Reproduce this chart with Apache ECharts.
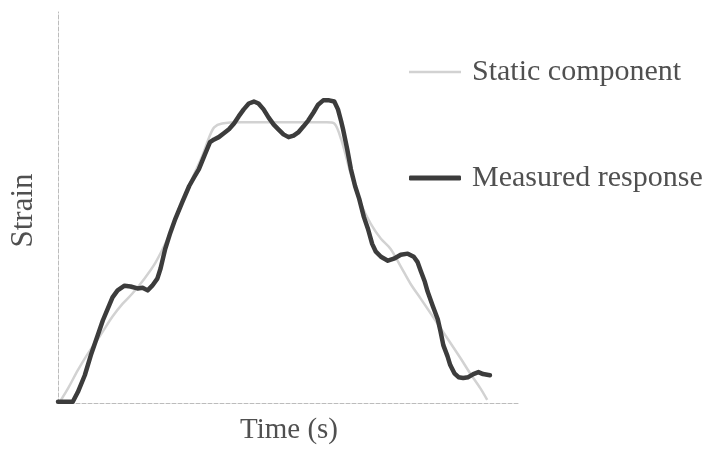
<!DOCTYPE html>
<html>
<head>
<meta charset="utf-8">
<script src="https://cdn.jsdelivr.net/npm/echarts@6/dist/echarts.min.js"></script>
<style>
  html, body { margin: 0; padding: 0; background: #ffffff; }
  #chart { width: 711px; height: 450px; }
</style>
</head>
<body>
<div id="chart"></div>
<script>
// Series names
const seriesNames = ['Static component', 'Measured response'];

// Static (quasi-static) strain component
const staticTime = [0.04, 0.22, 0.43, 0.65, 0.90, 1.18, 1.40, 1.61, 1.87, 2.11, 2.37, 2.62, 2.90, 3.12, 3.27, 3.38, 3.55, 3.98, 5.27, 5.81, 5.98, 6.13, 6.34, 6.56, 6.77, 6.99, 7.20, 7.42, 7.63, 7.85, 8.17, 8.43, 8.71, 8.92, 9.14, 9.29];
const staticStrain = [0.3, 3.8, 8.4, 12.7, 17.0, 22.1, 25.4, 28.0, 31.8, 35.9, 42.0, 49.1, 57.3, 63.1, 67.9, 70.5, 71.5, 71.8, 71.8, 71.8, 71.5, 67.4, 58.5, 50.9, 45.8, 42.0, 39.4, 34.9, 30.5, 26.7, 21.1, 16.5, 11.5, 7.6, 3.8, 0.8];

// Measured strain response
const measuredTime = [0, 0.15, 0.32, 0.43, 0.58, 0.71, 0.86, 0.97, 1.08, 1.18, 1.29, 1.44, 1.57, 1.72, 1.83, 1.94, 2.04, 2.15, 2.22, 2.32, 2.43, 2.54, 2.69, 2.84, 2.95, 3.05, 3.18, 3.29, 3.38, 3.48, 3.59, 3.70, 3.81, 3.91, 4.02, 4.13, 4.24, 4.34, 4.45, 4.56, 4.67, 4.77, 4.88, 4.99, 5.10, 5.20, 5.31, 5.42, 5.53, 5.63, 5.74, 5.87, 5.98, 6.06, 6.13, 6.17, 6.26, 6.34, 6.43, 6.52, 6.62, 6.71, 6.80, 6.88, 6.99, 7.14, 7.27, 7.42, 7.57, 7.70, 7.78, 7.85, 7.94, 8.00, 8.11, 8.22, 8.28, 8.34, 8.43, 8.49, 8.58, 8.67, 8.77, 8.88, 8.99, 9.10, 9.20, 9.35];
const measuredStrain = [0.3, 0.3, 0.3, 2.8, 7.1, 12.2, 17.3, 21.1, 24.2, 27.0, 28.8, 30.0, 29.8, 29.3, 29.5, 28.8, 30.0, 31.8, 34.4, 39.4, 43.5, 47.1, 51.4, 55.5, 57.8, 59.8, 63.6, 66.7, 67.4, 68.0, 69.0, 70.0, 71.5, 73.3, 75.1, 76.6, 77.1, 76.6, 75.1, 73.0, 71.2, 70.0, 68.7, 68.0, 68.4, 69.2, 70.7, 72.3, 74.3, 76.3, 77.4, 77.4, 77.1, 75.1, 72.0, 70.0, 64.9, 59.8, 55.5, 52.2, 47.6, 44.5, 40.7, 38.7, 37.4, 36.4, 36.9, 37.9, 38.2, 37.4, 36.1, 33.8, 31.0, 28.5, 24.9, 21.4, 18.3, 14.8, 12.0, 9.7, 7.6, 6.6, 6.4, 6.6, 7.4, 7.9, 7.4, 7.1];

// Axis titles
const xAxisTitle = 'Time (s)';
const yAxisTitle = 'Strain';

const pair = (xs, ys) => xs.map((x, i) => [x, ys[i]]);

const serif = '"Liberation Serif", "Times New Roman", serif';
const textColor = '#505050';
const staticColor = '#d2d2d2';
const measuredColor = '#3c3c3c';
const axisLineStyle = { color: '#bcbcbc', width: 1, type: [4, 2] };
const legendText = { fontFamily: serif, fontSize: 30, color: textColor, padding: [0, 0, 0, 6] };

const chart = echarts.init(document.getElementById('chart'), null, { renderer: 'canvas' });
chart.setOption({
  backgroundColor: '#ffffff',
  animation: false,
  grid: { left: 55, top: 12, right: 191, bottom: 45 },
  // one legend per entry so each key line can carry its own thickness
  legend: [
    {
      left: 404,
      top: 52,
      icon: 'rect',
      itemWidth: 52,
      itemHeight: 2.5,
      data: [seriesNames[0]],
      itemStyle: { color: staticColor },
      textStyle: legendText
    },
    {
      left: 404,
      top: 158,
      icon: 'roundRect',
      itemWidth: 52,
      itemHeight: 5,
      data: [seriesNames[1]],
      itemStyle: { color: measuredColor },
      textStyle: legendText
    }
  ],
  xAxis: {
    type: 'value',
    min: 0,
    max: 10,
    name: xAxisTitle,
    nameLocation: 'middle',
    nameGap: 13,
    nameTextStyle: { fontFamily: serif, fontSize: 29, color: textColor },
    axisLine: { show: true, lineStyle: axisLineStyle },
    axisTick: { show: false },
    axisLabel: { show: false },
    splitLine: { show: false }
  },
  yAxis: {
    type: 'value',
    min: 0,
    max: 100,
    name: yAxisTitle,
    nameLocation: 'middle',
    nameGap: 19,
    nameTextStyle: { fontFamily: serif, fontSize: 31, color: textColor, padding: [0, 6, 0, 0] },
    axisLine: { show: true, lineStyle: axisLineStyle },
    axisTick: { show: false },
    axisLabel: { show: false },
    splitLine: { show: false }
  },
  series: [
    {
      name: seriesNames[0],
      type: 'line',
      data: pair(staticTime, staticStrain),
      symbol: 'none',
      smooth: 0.3,
      z: 2,
      lineStyle: { color: staticColor, width: 2.5 },
      itemStyle: { color: staticColor }
    },
    {
      name: seriesNames[1],
      type: 'line',
      data: pair(measuredTime, measuredStrain),
      symbol: 'none',
      z: 3,
      lineStyle: { color: measuredColor, width: 4.5, join: 'round', cap: 'round' },
      itemStyle: { color: measuredColor }
    }
  ]
});
</script>
</body>
</html>
